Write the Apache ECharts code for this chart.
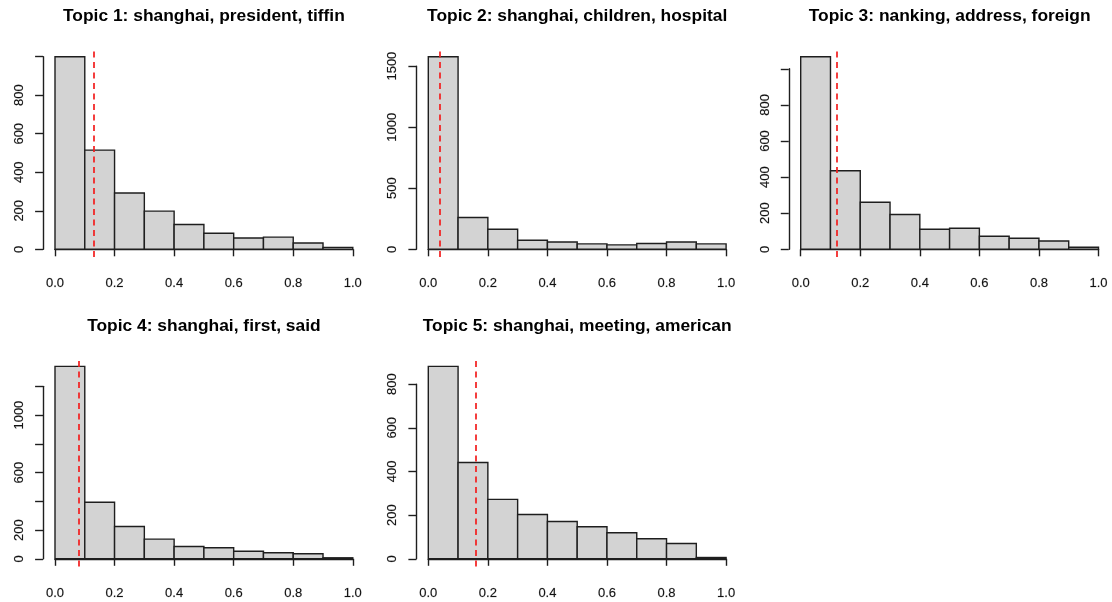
<!DOCTYPE html>
<html>
<head>
<meta charset="utf-8">
<title>Topic proportion histograms</title>
<script src="https://cdn.jsdelivr.net/npm/echarts@6/dist/echarts.min.js"></script>
<style>
  html, body { margin: 0; padding: 0; background: #ffffff; }
  #chart { width: 1112px; height: 602px; }
</style>
</head>
<body>
<div id="chart"></div>
<script>
// Panel titles (top three words per topic)
const topicTitles = [
  'Topic 1: shanghai, president, tiffin',
  'Topic 2: shanghai, children, hospital',
  'Topic 3: nanking, address, foreign',
  'Topic 4: shanghai, first, said',
  'Topic 5: shanghai, meeting, american'
];

// Histogram bin edges (document-topic proportion)
const binEdges = [0, 0.1, 0.2, 0.3, 0.4, 0.5, 0.6, 0.7, 0.8, 0.9, 1.0];

// Document counts per bin, one array per topic
const countsTopic1 = [1000, 515, 292, 198, 129, 83, 59, 63, 33, 10];
const countsTopic2 = [1577, 260, 164, 74, 60, 44, 36, 47, 60, 44];
const countsTopic3 = [1067, 435, 261, 193, 111, 117, 72, 61, 46, 11];
const countsTopic4 = [1339, 394, 225, 137, 86, 77, 53, 42, 35, 7];
const countsTopic5 = [881, 441, 272, 203, 171, 147, 119, 92, 70, 6];

// Mean proportion per topic (dashed red reference line)
const meanProportion = [0.133, 0.045, 0.121, 0.076, 0.158];

// Axis ticks
const xTickLabels = ['0.0', '0.2', '0.4', '0.6', '0.8', '1.0'];
const yTickStep = [200, 500, 200, 200, 200];
const yTickTop = [1000, 1500, 1000, 1200, 800];
const yTickLabels1 = ['0', '200', '400', '600', '800'];
const yTickLabels2 = ['0', '500', '1000', '1500'];
const yTickLabels3 = ['0', '200', '400', '600', '800'];
const yTickLabels4 = ['0', '200', '600', '1000'];
const yTickLabels5 = ['0', '200', '400', '600', '800'];

const allCounts = [countsTopic1, countsTopic2, countsTopic3, countsTopic4, countsTopic5];
const allYLabels = [yTickLabels1, yTickLabels2, yTickLabels3, yTickLabels4, yTickLabels5];

// Layout of the 2 x 3 panel grid (pixels)
const FONT = '"Liberation Sans", Arial, Helvetica, sans-serif';
const colLeft = [55, 428.3, 800.7];
const plotW = 297.8;
const rowTop = [49, 358.7];
const rowBottom = [257, 566.5];
const titleTop = [7.5, 317.5];
const pad = 0.04;          // axis range extension on both sides
const ink = '#1e1e1e';
const tickText = {
  fontSize: 13, color: '#111', fontFamily: FONT,
  textBorderColor: 'rgba(0,0,0,0.35)', textBorderWidth: 0.4
};

const grids = [], xAxes = [], yAxes = [], series = [], titles = [];

allCounts.forEach((counts, i) => {
  const col = i % 3, row = Math.floor(i / 3);
  const maxCount = Math.max(...counts);
  const H = rowBottom[row] - rowTop[row];
  const pxPerUnit = H / ((1 + 2 * pad) * maxCount);
  const zeroY = rowTop[row] + (1 + pad) * maxCount * pxPerUnit;

  // Plot region: bars, dashed mean line and the x axis
  const gData = grids.length;
  grids.push({
    left: colLeft[col], top: rowTop[row], width: plotW, height: H,
    containLabel: false, outerBoundsMode: 'none'
  });
  xAxes.push({
    gridIndex: gData, type: 'value', min: 0, max: 1, interval: 0.2,
    axisLine: { show: true, lineStyle: { color: ink, width: 1.4 } },
    axisTick: { show: true, inside: false, length: 7, lineStyle: { color: ink, width: 1.4 } },
    axisLabel: Object.assign({
      show: true, margin: 20,
      showMinLabel: true, showMaxLabel: true,
      formatter: (v) => xTickLabels[Math.round(v / 0.2)]
    }, tickText),
    splitLine: { show: false }
  });
  yAxes.push({
    gridIndex: gData, type: 'value',
    min: -pad * maxCount, max: (1 + pad) * maxCount, show: false
  });

  // y axis, spanning 0 .. top tick, placed at the left edge of the plot region
  const gY = grids.length;
  grids.push({
    left: colLeft[col] - pad * plotW,
    top: zeroY - yTickTop[i] * pxPerUnit,
    width: 10,
    height: yTickTop[i] * pxPerUnit,
    containLabel: false, outerBoundsMode: 'none'
  });
  xAxes.push({ gridIndex: gY, type: 'value', min: 0, max: 1, show: false });
  const labels = allYLabels[i];
  yAxes.push({
    gridIndex: gY, type: 'value', min: 0, max: yTickTop[i], interval: yTickStep[i],
    axisLine: { show: true, lineStyle: { color: ink, width: 1.4 } },
    axisTick: { show: true, inside: false, length: 8, lineStyle: { color: ink, width: 1.4 } },
    axisLabel: Object.assign({
      show: true, rotate: 90, margin: 17,
      showMinLabel: true, showMaxLabel: true,
      formatter: (v) => (labels.indexOf(String(v)) >= 0 ? String(v) : '')
    }, tickText),
    splitLine: { show: false }
  });

  // Histogram bars
  const binData = counts.map((c, k) => [binEdges[k], binEdges[k + 1], c]);
  series.push({
    type: 'custom',
    xAxisIndex: gData, yAxisIndex: gData,
    data: binData,
    silent: true,
    renderItem: (params, api) => {
      const p0 = api.coord([api.value(0), api.value(2)]);
      const p1 = api.coord([api.value(1), 0]);
      return {
        type: 'rect',
        shape: { x: p0[0], y: p0[1], width: p1[0] - p0[0], height: p1[1] - p0[1] },
        style: { fill: '#d3d3d3', stroke: ink, lineWidth: 1.4 }
      };
    }
  });

  // Mean proportion marker
  series.push({
    type: 'line',
    xAxisIndex: gData, yAxisIndex: gData,
    data: [],
    silent: true,
    markLine: {
      silent: true, symbol: ['none', 'none'],
      label: { show: false },
      lineStyle: { color: '#f21d1d', width: 1.7, type: [6, 4.5] },
      data: [{ xAxis: meanProportion[i] }]
    }
  });

  titles.push({
    text: topicTitles[i],
    left: colLeft[col] + plotW / 2, textAlign: 'center',
    top: titleTop[row],
    padding: 0,
    textStyle: { fontSize: 17.4, fontWeight: 'bold', color: '#000', fontFamily: FONT }
  });
});

const chart = echarts.init(document.getElementById('chart'), null, { renderer: 'canvas' });
chart.setOption({
  animation: false,
  backgroundColor: '#ffffff',
  title: titles,
  grid: grids,
  xAxis: xAxes,
  yAxis: yAxes,
  series: series
});
</script>
</body>
</html>
